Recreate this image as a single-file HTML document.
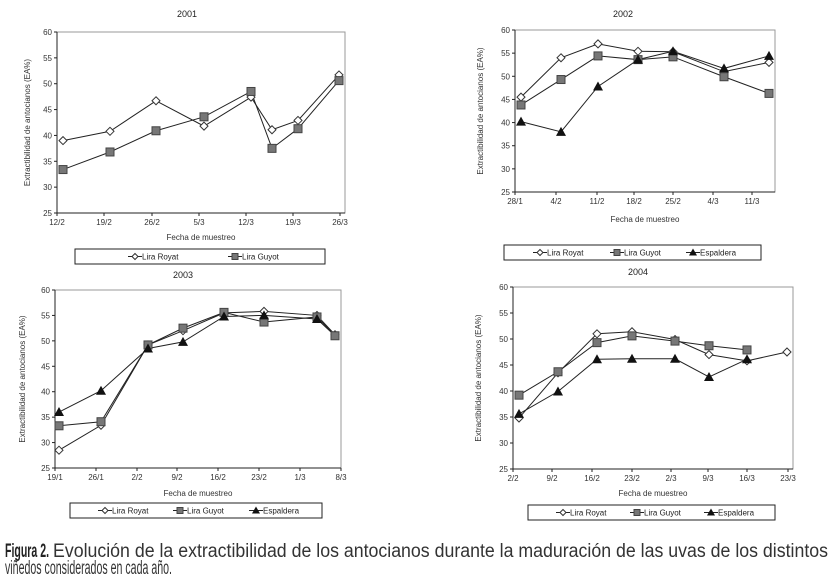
<!DOCTYPE html>
<html><head><meta charset="utf-8"><style>
html,body{margin:0;padding:0;background:#fff;overflow:hidden;width:834px;height:584px;}
svg{display:block;font-family:"Liberation Sans",sans-serif;}
</style></head><body>
<svg id="s" width="834" height="584" viewBox="0 0 834 584" xmlns="http://www.w3.org/2000/svg">
<text x="5" y="557" font-size="19" font-weight="bold" fill="#222" textLength="44" lengthAdjust="spacingAndGlyphs">Figura 2.</text>
<text x="53" y="557" font-size="19" fill="#333" textLength="775" lengthAdjust="spacingAndGlyphs">Evolución de la extractibilidad de los antocianos durante la maduración de las uvas de los distintos</text>
<text x="5" y="574" font-size="19" fill="#333" textLength="167" lengthAdjust="spacingAndGlyphs">viñedos considerados en cada año.</text>
</svg>
<script>
var S=document.getElementById('s'),NS='http://www.w3.org/2000/svg';
function el(t,a,txt){var e=document.createElementNS(NS,t);for(var k in a)e.setAttribute(k,a[k]);if(txt!==undefined)e.textContent=txt;S.appendChild(e);return e;}
function mark(type,x,y){
 if(type==0)el('path',{d:'M'+x+' '+(y-4)+'L'+(x+4)+' '+y+'L'+x+' '+(y+4)+'L'+(x-4)+' '+y+'Z',fill:'#fff',stroke:'#333','stroke-width':1});
 else if(type==1)el('rect',{x:x-4,y:y-4,width:8,height:8,fill:'#777',stroke:'#444','stroke-width':1});
 else el('path',{d:'M'+x+' '+(y-5)+'L'+(x+5)+' '+(y+4)+'L'+(x-5)+' '+(y+4)+'Z',fill:'#111'});
}
function chart(c){
 var X0=c.x0,X1=c.x1,T=c.t,B=c.b;
 function Y(v){return B-(v-25)/35*(B-T);}
 el('rect',{x:X0,y:T,width:X1-X0,height:B-T,fill:'none',stroke:'#999','stroke-width':1});
 el('line',{x1:X0,y1:T,x2:X0,y2:B,stroke:'#222','stroke-width':1});
 el('line',{x1:X0,y1:B,x2:X1,y2:B,stroke:'#222','stroke-width':1});
 for(var v=25;v<=60;v+=5){var y=Y(v);el('line',{x1:X0-3,y1:y,x2:X0,y2:y,stroke:'#222'});el('text',{x:X0-5,y:y+3,'font-size':8,'text-anchor':'end',fill:'#333'},v);}
 c.ticks.forEach(function(t){el('line',{x1:t[0],y1:B,x2:t[0],y2:B+3,stroke:'#222'});el('text',{x:t[0],y:B+12,'font-size':8,'text-anchor':'middle',fill:'#333'},t[1]);});
 el('text',{x:c.tx,y:c.ty,'font-size':9,'text-anchor':'middle',fill:'#222'},c.title);
 el('text',{x:(X0+X1)/2,y:c.xl,'font-size':8,'text-anchor':'middle',fill:'#333'},'Fecha de muestreo');
 var yl=c.yx,ym=(T+B)/2;
 el('text',{x:yl,y:ym,'font-size':8,'text-anchor':'middle',fill:'#333',transform:'rotate(-90 '+yl+' '+ym+')'},'Extractibilidad de antocianos (EA%)');
 c.series.forEach(function(s,i){
  var pts=[];s.forEach(function(v,j){if(v!=null)pts.push(c.px[j]+','+Y(v));});
  el('polyline',{points:pts.join(' '),fill:'none',stroke:'#222','stroke-width':1});
 });
 c.series.forEach(function(s,i){s.forEach(function(v,j){if(v!=null&&!(c.nom&&c.nom[i]==j))mark(i,c.px[j],Y(v));});});
 var L=c.leg;el('rect',{x:L[0],y:L[1],width:L[2]-L[0],height:15,fill:'#fff',stroke:'#222','stroke-width':1});
 var names=['Lira Royat','Lira Guyot','Espaldera'];
 for(var i=0;i<c.series.length;i++){var lx=L[3][i],ly=L[1]+7.5;
  el('line',{x1:lx,y1:ly,x2:lx+14,y2:ly,stroke:'#222'});
  if(i==0)el('path',{d:'M'+(lx+7)+' '+(ly-3)+'L'+(lx+10)+' '+ly+'L'+(lx+7)+' '+(ly+3)+'L'+(lx+4)+' '+ly+'Z',fill:'#fff',stroke:'#333'});
  else if(i==1)el('rect',{x:lx+4,y:ly-3,width:6,height:6,fill:'#777',stroke:'#444'});
  else el('path',{d:'M'+(lx+7)+' '+(ly-4)+'L'+(lx+11)+' '+(ly+3)+'L'+(lx+3)+' '+(ly+3)+'Z',fill:'#111'});
  el('text',{x:lx+14,y:ly+3,'font-size':8,fill:'#222'},names[i]);}
}
chart({x0:57,x1:345,t:32,b:213,title:'2001',tx:187,ty:17,xl:240,yx:30,
 ticks:[[57,'12/2'],[104,'19/2'],[152,'26/2'],[199,'5/3'],[246,'12/3'],[293,'19/3'],[340,'26/3']],
 px:[63,110,156,204,251,272,298,339],
 series:[[39,40.8,46.7,41.8,47.4,41.1,42.9,51.7],[33.4,36.8,40.9,43.6,48.5,37.5,41.3,50.6]],
 leg:[75,249,325,[128,228]]});
chart({x0:515,x1:775,t:30,b:192,title:'2002',tx:623,ty:17,xl:222,yx:483,
 ticks:[[515,'28/1'],[556,'4/2'],[597,'11/2'],[634,'18/2'],[673,'25/2'],[713,'4/3'],[752,'11/3']],
 px:[521,561,598,638,673,724,769],
 series:[[45.5,54,57,55.4,55.3,51,53],[43.8,49.3,54.4,53.6,54.2,49.9,46.3],[40.2,38,47.8,53.6,55.4,51.7,54.4]],
 leg:[504,245,761,[533,610,686]]});
chart({x0:55,x1:341,t:290,b:468,title:'2003',tx:183,ty:278,xl:496,yx:25,
 ticks:[[55,'19/1'],[96,'26/1'],[137,'2/2'],[177,'9/2'],[218,'16/2'],[259,'23/2'],[300,'1/3'],[341,'8/3']],
 px:[59,101,148,183,224,264,317,335],
 series:[[28.5,33.4,49.2,52,55.5,55.8,55,51.2],[33.3,34.1,49.2,52.5,55.6,53.7,54.7,51],[36,40.2,48.5,49.8,54.8,55,54.3,51]],
 nom:[null,null,7],
 leg:[70,503,322,[98,173,249]]});
chart({x0:513,x1:793,t:287,b:469,title:'2004',tx:638,ty:275,xl:496,yx:481,
 ticks:[[513,'2/2'],[552,'9/2'],[592,'16/2'],[632,'23/2'],[671,'2/3'],[708,'9/3'],[747,'16/3'],[788,'23/3']],
 px:[519,558,597,632,675,709,747,787],
 series:[[34.8,43.5,51,51.4,49.9,47,45.8,47.5],[39.2,43.7,49.3,50.6,49.6,48.7,47.9,null],[35.6,39.9,46.1,46.2,46.2,42.7,46.1,null]],
 leg:[528,505,775,[556,630,704]]});
</script>
</body></html>
